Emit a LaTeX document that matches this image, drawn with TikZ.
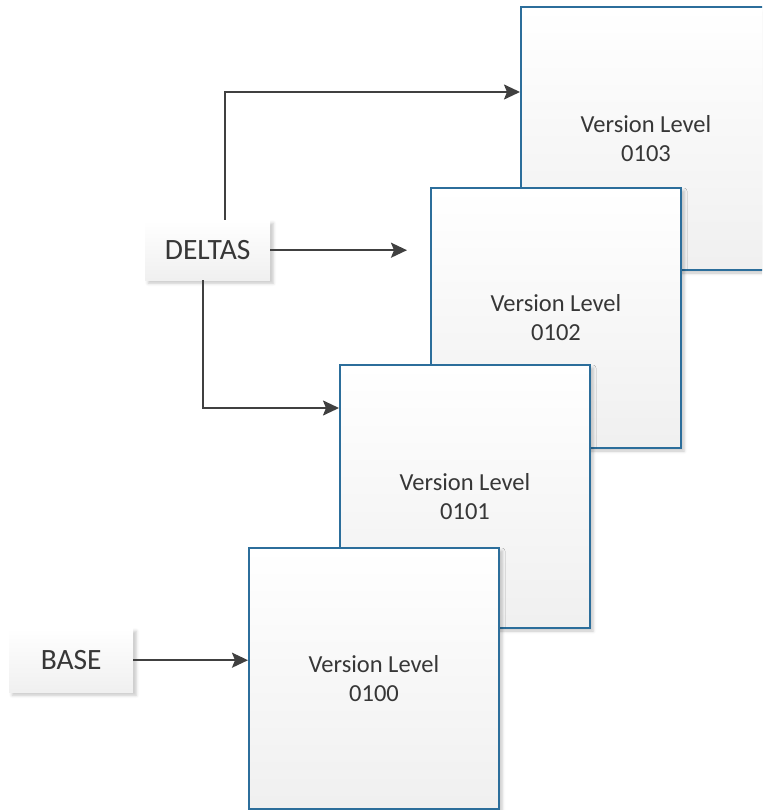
\documentclass[tikz,border=0pt]{standalone}
\usepackage{fontspec}
\setmainfont{Carlito}
\usetikzlibrary{arrows.meta,shadows.blur}
\definecolor{levelblue}{RGB}{44,110,155}
\definecolor{inkgray}{RGB}{64,64,64}
\definecolor{txtgray}{RGB}{55,55,55}
\tikzset{
  level/.style={draw=levelblue, line width=2pt, top color=white, bottom color=black!6,
    minimum width=250pt, minimum height=261pt, anchor=north west, align=center,
    inner sep=0pt, text=txtgray, font=\fontsize{24.5}{29}\selectfont,
    blur shadow={shadow xshift=3pt, shadow yshift=-3pt, shadow blur radius=3pt, shadow opacity=22}},
  source/.style={top color=white, bottom color=black!6, anchor=north west,
    inner sep=0pt, text=txtgray, font=\fontsize{29.5}{33}\selectfont,
    blur shadow={shadow xshift=3pt, shadow yshift=-3pt, shadow blur radius=3pt, shadow opacity=22}},
  link/.style={draw=inkgray, line width=2pt, -{Stealth[length=16pt, width=15pt, inset=3pt]}}
}
\begin{document}
\begin{tikzpicture}[x=1pt, y=-1pt]
\useasboundingbox (0,0) rectangle (762,810);
\begin{scope}
\clip (0,0) rectangle (762,810);
% stacked version levels, back to front
\node[level, minimum height=263pt] (v3) at (520,6) {Version Level\\0103};
\node[level, minimum height=260pt] (v2) at (430,187) {Version Level\\0102};
\node[level, minimum height=263pt] (v1) at (339,364) {Version Level\\0101};
\node[level] (v0) at (248,547) {Version Level\\0100};
\end{scope}
% sources
\node[source, minimum width=125pt, minimum height=60pt] (deltas) at (145,220) {DELTAS};
\node[source, minimum width=124pt, minimum height=64pt] (base) at (9,628) {BASE};
% free end of the middle delta arrow
\coordinate (gap) at (407,0);
% connectors
\draw[link] (base.east) -- (base.east -| v0.west);
\draw[link] (deltas.east) -- (deltas.east -| gap);
\draw[link] (deltas.north -| 225,0) |- (v3.west |- 0,92);
\draw[link] (deltas.south -| 203,0) |- (v1.west |- 0,408);
\end{tikzpicture}
\end{document}
